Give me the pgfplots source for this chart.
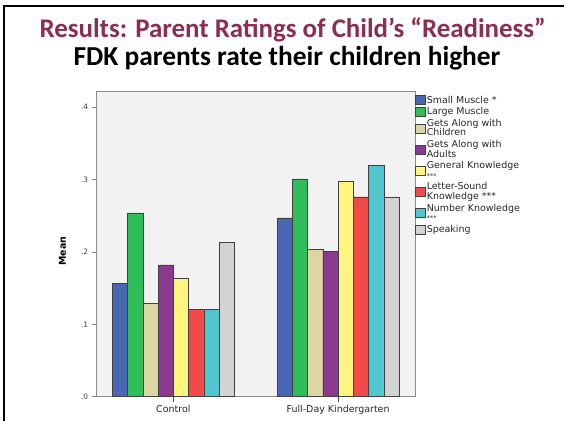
\documentclass[border=0pt]{standalone}
\usepackage{pgfplots}
\pgfplotsset{compat=1.18}
\usepackage{fontspec}
\setmainfont{DejaVu Sans}
\newfontfamily\titlefont{Carlito}
\definecolor{smallm}{RGB}{74,103,181}
\definecolor{largem}{RGB}{46,189,88}
\definecolor{getsch}{RGB}{221,213,163}
\definecolor{getsad}{RGB}{139,58,142}
\definecolor{genk}{RGB}{253,245,127}
\definecolor{letk}{RGB}{240,74,74}
\definecolor{numk}{RGB}{82,198,206}
\definecolor{speak}{RGB}{211,211,211}
\definecolor{titlered}{RGB}{140,45,82}
\definecolor{axgray}{RGB}{140,140,140}

\begin{document}
\begin{tikzpicture}[x=1bp,y=1bp]
\useasboundingbox (-96.7,-24.3) rectangle (467.3,396.7);
% slide frame (left and top edges)
\draw[line width=2bp] (-92.4,-24.3) -- (-92.4,391) -- (467.3,391);
\node[font=\titlefont\bfseries\fontsize{27}{30}\selectfont, text=titlered] at (196,367) {Results: Parent Ratings of Child’s “Readiness”};
\node[font=\titlefont\bfseries\fontsize{27.5}{30}\selectfont] at (190.3,338.5) {FDK parents rate their children higher};

\begin{axis}[
    at={(0,0)}, anchor=south west,
    scale only axis,
    width=318.3bp, height=305bp,
    ybar=0pt, bar width=15.25bp,
    xmin=-0.465, xmax=1.467,
    ymin=0, ymax=0.4214,
    xtick={0,1}, xticklabels={Control,Full-Day Kindergarten},
    ytick={0,0.1,0.2,0.3,0.4}, yticklabels={.0,.1,.2,.3,.4},
    xtick pos=bottom, ytick pos=left,
    tick align=outside, major tick length=5bp,
    tick style={axgray, line width=0.8bp},
    xtick style={black!70},
    axis line style={axgray, line width=1bp},
    axis background/.style={fill=black!5},
    yticklabel style={font=\fontsize{7.5}{8}\selectfont, text=black!75},
    xticklabel style={font=\fontsize{9.5}{10}\selectfont, text=black!85},
    ylabel={\bfseries Mean},
    ylabel style={font=\fontsize{9.5}{10}\selectfont, at={(axis description cs:-0.085,0.477)}},
    every axis plot/.append style={draw=black!75, line width=0.6bp},
    legend style={at={(axis description cs:1,0.99)}, anchor=north west,
        draw=none, fill=none, font=\fontsize{9.5}{9.5}\selectfont,
        inner sep=0bp, row sep=1bp,
        nodes={inner sep=1bp, align=left, text=black!85}},
    legend cell align=left,
    legend image code/.code={\draw[#1] (0bp,-4.5bp) rectangle (10bp,4.5bp);},
]
\addplot[fill=smallm] coordinates {(0,0.156) (1,0.247)};
\addplot[fill=largem] coordinates {(0,0.254) (1,0.301)};
\addplot[fill=getsch] coordinates {(0,0.129) (1,0.203)};
\addplot[fill=getsad] coordinates {(0,0.182) (1,0.201)};
\addplot[fill=genk] coordinates {(0,0.163) (1,0.297)};
\addplot[fill=letk] coordinates {(0,0.121) (1,0.276)};
\addplot[fill=numk] coordinates {(0,0.121) (1,0.320)};
\addplot[fill=speak] coordinates {(0,0.213) (1,0.276)};
\legend{Small Muscle *, Large Muscle, Gets Along with\\Children, Gets Along with\\Adults, General Knowledge\\{\fontsize{6.5}{6.5}\selectfont ***}, Letter-Sound\\Knowledge ***, Number Knowledge\\{\fontsize{6.5}{6.5}\selectfont ***}, Speaking}
\end{axis}
\end{tikzpicture}
\end{document}
